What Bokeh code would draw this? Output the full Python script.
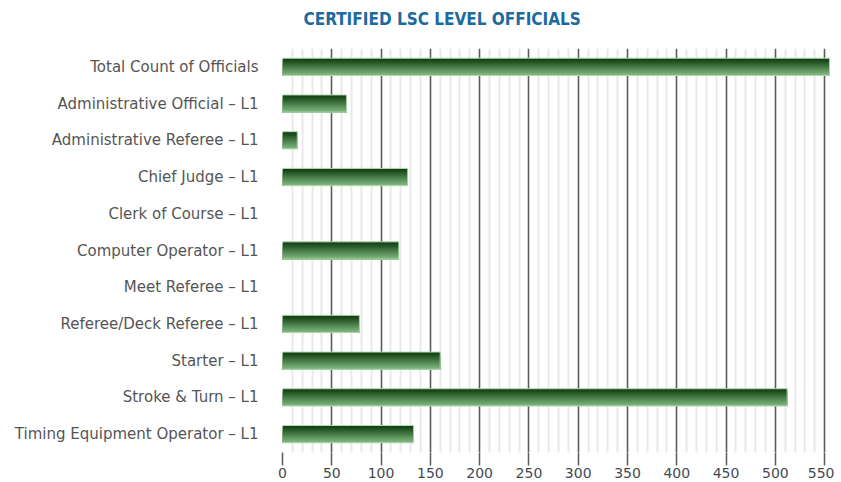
from bokeh.plotting import figure
from bokeh.models import ColumnDataSource, SingleIntervalTicker, Range1d, FactorRange, Title
from bokeh.transform import dodge
from bokeh.embed import file_html
from bokeh.resources import INLINE

categories = [
    "Total Count of Officials",
    "Administrative Official – L1",
    "Administrative Referee – L1",
    "Chief Judge – L1",
    "Clerk of Course – L1",
    "Computer Operator – L1",
    "Meet Referee – L1",
    "Referee/Deck Referee – L1",
    "Starter – L1",
    "Stroke & Turn – L1",
    "Timing Equipment Operator – L1",
]
counts = [555, 65, 15, 127, 0, 118, 0, 78, 160, 512, 133]

title_text = "CERTIFIED LSC LEVEL OFFICIALS"

p = figure(
    width=834, height=482,
    y_range=FactorRange(factors=list(reversed(categories))),
    x_range=Range1d(0, 560),
    output_backend="svg", toolbar_location=None,
    min_border_left=282, min_border_right=0, min_border_top=48, min_border_bottom=30,
)
p.outline_line_color = None
p.background_fill_color = "white"

# spacer between frame and title
p.add_layout(Title(text=" ", text_font_size="1px", standoff=11), "above")

# title
p.title.text = title_text
p.title.align = "left"
p.title.offset = 21
p.title.text_font = "DejaVu Sans Condensed"
p.title.text_font_size = "17px"
p.title.text_font_style = "bold"
p.title.text_color = "#1b6aa0"
p.title.standoff = 11

# x axis and grid
ticker = SingleIntervalTicker(interval=50, num_minor_ticks=5)
p.xaxis.ticker = ticker
p.xgrid.ticker = ticker
p.xgrid.grid_line_color = "#5c5c5c"
p.xgrid.grid_line_width = 1.5
p.xgrid.minor_grid_line_color = "#e9e9e9"
p.xgrid.minor_grid_line_width = 2
p.ygrid.grid_line_color = None
p.xaxis.axis_line_color = None
p.xaxis.major_tick_out = 13
p.xaxis.major_tick_in = 0
p.xaxis.major_tick_line_color = "#5c5c5c"
p.xaxis.major_tick_line_width = 1.5
p.xaxis.minor_tick_line_color = None
p.xaxis.major_label_standoff = 2
p.xaxis.major_label_text_font = "DejaVu Sans"
p.xaxis.major_label_text_font_size = "14px"
p.xaxis.major_label_text_color = "#454a52"

# y axis
p.yaxis.axis_line_color = None
p.yaxis.major_tick_line_color = None
p.yaxis.minor_tick_line_color = None
p.yaxis.major_label_standoff = 18
p.yaxis.major_label_text_font = "DejaVu Sans"
p.yaxis.major_label_text_font_size = "15px"
p.yaxis.major_label_text_color = "#555555"

src = ColumnDataSource(dict(cat=categories, val=counts))

# gradient bars: nested rectangles anchored at the bar bottom, dark top -> light bottom
bar_h = 0.47
n = 16
s = bar_h / n
top_rgb = (14, 60, 14)
bot_rgb = (128, 184, 128)
for k in range(n):
    t = k / (n - 1)
    rgb = tuple(int(round(top_rgb[i] + (bot_rgb[i] - top_rgb[i]) * t)) for i in range(3))
    col = "#%02x%02x%02x" % rgb
    off = -k * s / 2
    p.hbar(y=dodge("cat", off, range=p.y_range), left=0, right="val",
           height=bar_h - k * s, source=src, fill_color=col,
           line_color=None)

# light border around non-zero bars
nz_cats = [c for c, v in zip(categories, counts) if v > 0]
nz_vals = [v for v in counts if v > 0]
src_nz = ColumnDataSource(dict(cat=nz_cats, val=nz_vals))
p.hbar(y="cat", left=0, right="val", height=bar_h, source=src_nz,
       fill_color=None, line_color="#b3dab3", line_width=1)

open("out.html", "w").write(file_html(p, INLINE))
